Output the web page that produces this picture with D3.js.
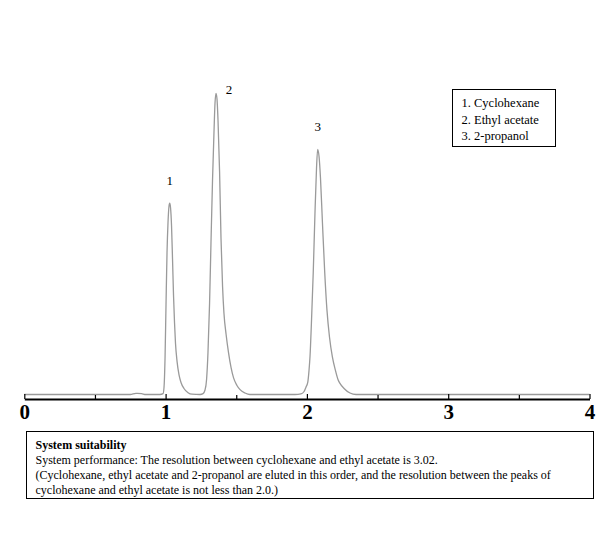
<!DOCTYPE html>
<html>
<head>
<meta charset="utf-8">
<script src="https://cdn.jsdelivr.net/npm/d3@7"></script>
<style>
  html, body { margin: 0; padding: 0; background: #fff; }
  svg { display: block; }
</style>
</head>
<body>
<svg id="chart" width="616" height="537"></svg>
<script>
// ---- data ----
// time axis (min) tick labels
const majorTicks = [0, 1, 2, 3, 4];
const minorTicks = [0.5, 1.5, 2.5, 3.5];
// chromatogram trace: retention time (min) and relative response (peak 2 = 100)
const traceTime = [
  0.000, 0.750, 0.790, 0.800, 0.830, 0.860,
  0.960, 0.982, 0.989, 0.996, 1.003, 1.010, 1.017, 1.024, 1.029, 1.035, 1.042, 1.049, 1.056, 1.063, 1.070, 1.081, 1.095, 1.109, 1.130, 1.159, 1.187,
  1.244, 1.265, 1.279, 1.290, 1.300, 1.311, 1.321, 1.332, 1.343, 1.350, 1.357, 1.364, 1.371, 1.382, 1.392, 1.403, 1.413, 1.428, 1.445, 1.463, 1.481, 1.505, 1.527, 1.562, 1.597,
  1.916, 1.958, 1.980, 1.994, 2.006, 2.015, 2.022, 2.033, 2.045, 2.057, 2.068, 2.076, 2.086, 2.096, 2.110, 2.126, 2.142, 2.160, 2.180, 2.202, 2.220, 2.234, 2.263, 2.305, 2.348,
  4.000
];
const traceResponse = [
  0, 0, 0.4, 0.4, 0.3, 0,
  0, 0.3, 2.5, 12, 30, 47, 57, 62.5, 63.5, 62, 56, 45, 33, 24, 17, 11, 6.5, 4, 2, 0.6, 0.1,
  0, 0.3, 1.5, 5, 14, 30, 50, 71, 88, 97, 100, 98, 91, 74, 52, 36, 27, 20, 14, 9, 5.5, 3, 1.6, 0.5, 0,
  0, 0.2, 1, 2.5, 4, 8, 12.6, 25, 40.7, 60, 75, 81.4, 79, 72, 57, 40.7, 28, 19, 12.6, 8, 5, 3.7, 2, 0.5, 0,
  0
];
// peak labels
const peakNames = ["1", "2", "3"];
const peakTimes = [1.029, 1.357, 2.076];
const peakHeights = [63.5, 100, 81.4];
// legend entries
const legendItems = ["1. Cyclohexane", "2. Ethyl acetate", "3. 2-propanol"];
// note text
const noteTitle = "System suitability";
const noteLines = [
  "System performance: The resolution between cyclohexane and ethyl acetate is 3.02.",
  "(Cyclohexane, ethyl acetate and 2-propanol are eluted in this order, and the resolution between the peaks of",
  "cyclohexane and ethyl acetate is not less than 2.0.)"
];

// ---- drawing ----
const svg = d3.select("#chart");
const serif = "'Liberation Serif', 'Times New Roman', serif";

const x = d3.scaleLinear().domain([0, 4]).range([24.3, 589.5]);
const y = d3.scaleLinear().domain([0, 100]).range([394.5, 93.3]);

const pts = traceTime.map((t, i) => [t, traceResponse[i]]);
const line = d3.line()
  .x(d => x(d[0]))
  .y(d => y(d[1]))
  .curve(d3.curveMonotoneX);

svg.append("path")
  .datum(pts)
  .attr("fill", "none")
  .attr("stroke", "#9a9a9a")
  .attr("stroke-width", 1.3)
  .attr("d", line);

// axis
const axisY = 399;
const gAxis = svg.append("g").attr("transform", `translate(0,${axisY})`);
gAxis.call(d3.axisBottom(x).tickValues(majorTicks).tickSizeInner(-5).tickSizeOuter(0).tickPadding(0).tickFormat(d3.format("d")));
gAxis.select(".domain").attr("stroke", "#000").attr("stroke-width", 2);
gAxis.selectAll(".tick line").attr("stroke", "#000").attr("stroke-width", 1.2);
gAxis.selectAll(".tick text")
  .attr("dy", null)
  .attr("y", 19.5)
  .attr("font-family", serif)
  .attr("font-weight", "bold")
  .attr("font-size", "21px")
  .attr("fill", "#000");

const gMinor = svg.append("g").attr("transform", `translate(0,${axisY})`);
gMinor.call(d3.axisBottom(x).tickValues(minorTicks).tickSizeInner(-4).tickSizeOuter(0).tickFormat(""));
gMinor.select(".domain").remove();
gMinor.selectAll(".tick line").attr("stroke", "#000").attr("stroke-width", 1.2);

// peak labels
const labelDx = [0, 13, 0];
const labelDy = [-18, 1, -18];
svg.selectAll("text.peak")
  .data(peakNames)
  .join("text")
  .attr("class", "peak")
  .attr("x", (d, i) => x(peakTimes[i]) + labelDx[i])
  .attr("y", (d, i) => y(peakHeights[i]) + labelDy[i])
  .attr("text-anchor", "middle")
  .attr("font-family", serif)
  .attr("font-size", "13px")
  .attr("fill", "#000")
  .text(d => d);

// legend box
svg.append("rect")
  .attr("x", 452.5).attr("y", 89.5).attr("width", 103).attr("height", 57)
  .attr("fill", "#fff").attr("stroke", "#000").attr("stroke-width", 1);
svg.selectAll("text.leg")
  .data(legendItems)
  .join("text")
  .attr("class", "leg")
  .attr("x", 461.5)
  .attr("y", (d, i) => 107 + i * 16.5)
  .attr("font-family", serif)
  .attr("font-size", "12.5px")
  .attr("fill", "#000")
  .text(d => d);

// note box
svg.append("rect")
  .attr("x", 26.5).attr("y", 431.5).attr("width", 567).attr("height", 67)
  .attr("fill", "#fff").attr("stroke", "#000").attr("stroke-width", 1);
svg.append("text")
  .attr("x", 35.5).attr("y", 448.5)
  .attr("font-family", serif).attr("font-weight", "bold")
  .attr("font-size", "12px").attr("fill", "#000")
  .text(noteTitle);
svg.selectAll("text.note")
  .data(noteLines)
  .join("text")
  .attr("class", "note")
  .attr("x", 35.5)
  .attr("y", (d, i) => 463.5 + i * 15.3)
  .attr("font-family", serif)
  .attr("font-size", "12px")
  .attr("fill", "#000")
  .text(d => d);
</script>
</body>
</html>
